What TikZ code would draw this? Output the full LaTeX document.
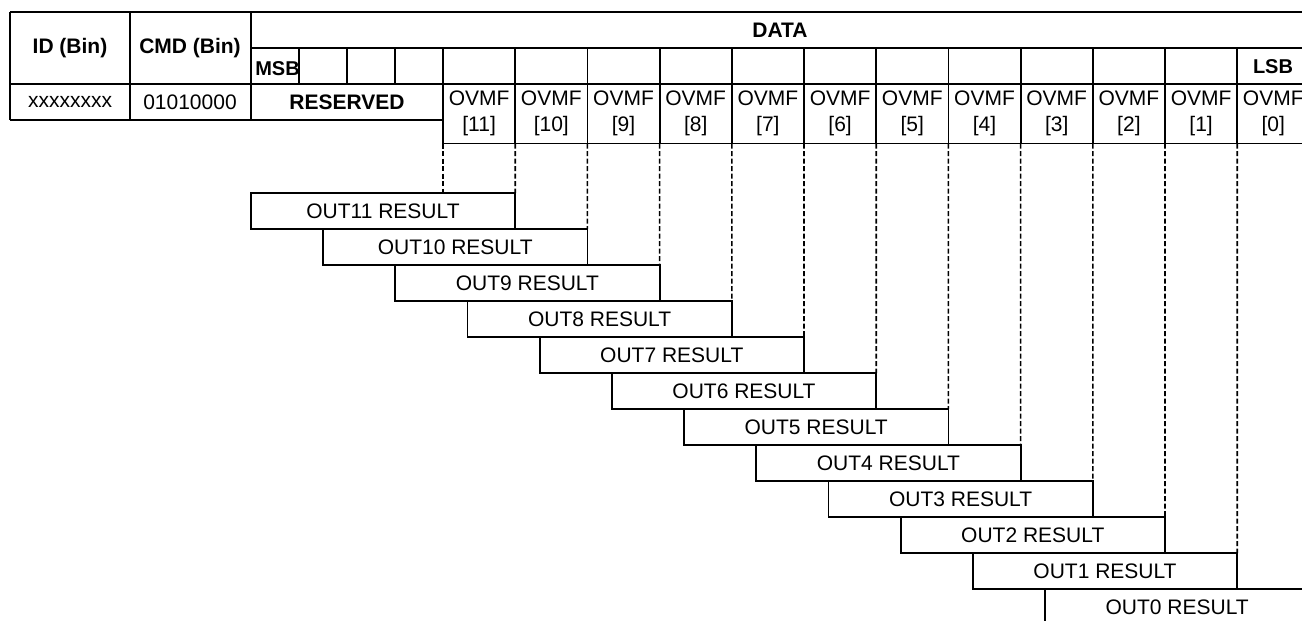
\documentclass[tikz,border=0pt]{standalone}
\usepackage{fontspec}
\setmainfont{Liberation Sans}
\begin{document}
\begin{tikzpicture}[x=1pt,y=-1pt,
  tbl/.style={line width=1.8pt},
  cell/.style={draw, rectangle, line width=1.8pt, minimum width=72.2pt, minimum height=59.5pt, inner sep=0pt, outer sep=0pt, align=center, font=\fontsize{21}{26}\selectfont},
  res/.style={draw, rectangle, line width=1.8pt, minimum width=264.4pt, minimum height=36pt, inner sep=0pt, outer sep=0pt, font=\fontsize{21}{25}\selectfont},
  guide/.style={dash pattern=on 5pt off 2.5pt, line width=1.6pt},
  hdr/.style={inner sep=0pt, font=\fontsize{21}{25}\selectfont\bfseries},
  txt/.style={inner sep=0pt, font=\fontsize{21}{25}\selectfont},
  lbl/.style={inner sep=0pt, font=\fontsize{20}{22}\selectfont\bfseries}]
\clip (0,0) rectangle (1302,621);
% table grid
\draw[tbl] (10,12) -- (1312,12);
\draw[tbl] (251,48) -- (1312,48);
\draw[tbl] (10,84) -- (1312,84);
\draw[tbl] (10,120) -- (443,120);
\draw[tbl] (10,12) -- (10,120);
\draw[tbl] (130,12) -- (130,120);
\draw[tbl] (251,12) -- (251,120);
\foreach \x in {299,347,395} \draw[tbl] (\x,48) -- (\x,84);
\foreach \k [evaluate=\k as \xx using 443+72.2*\k] in {0,...,12} \draw[tbl] (\xx,48) -- (\xx,84);
% header texts
\node[hdr] (hid) at (70,48) {ID (Bin)};
\node[hdr] (hcmd) at (190,48) {CMD (Bin)};
\node[hdr] (hdata) at (780,30) {DATA};
\node[lbl] (msb) at (277.5,69) {MSB};
\node[lbl] (lsb) at (1273,67) {LSB};
\node[txt] (vid) at (70,102) {xxxxxxxx};
\node[txt] (vcmd) at (190,102) {01010000};
\node[hdr] (vres) at (347,102) {RESERVED};
% OVMF cells
\foreach \k [evaluate=\k as \xc using 443+72.2*\k+36.1, evaluate=\k as \nn using int(11-\k)] in {0,...,11}
  \node[cell] (c\k) at (\xc,113.75) {OVMF\\{}[\nn]};
% result boxes
\foreach \i [evaluate=\i as \xc using 443+72.2*(\i+1)-132.2, evaluate=\i as \yc using 211+36*\i, evaluate=\i as \nn using int(11-\i)] in {0,...,11}
  \node[res] (r\i) at (\xc,\yc) {OUT\nn\ RESULT};
% dashed guides
\draw[guide] (c0.south west) -- (c0.south west |- r0.north);
\foreach \k [evaluate=\k as \i using int(\k-1)] in {1,...,11}
  \draw[guide] (c\k.south west) -- (r\i.north east);
\end{tikzpicture}
\end{document}
